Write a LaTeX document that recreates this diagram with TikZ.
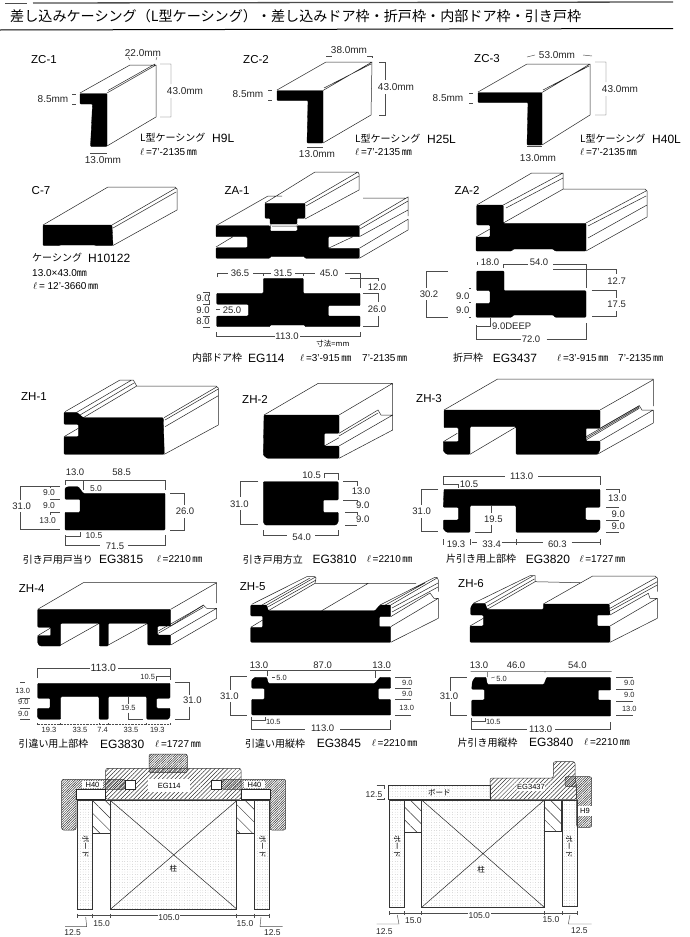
\documentclass[tikz,border=0pt]{standalone}
\usepackage{fontspec}
\setmainfont{Liberation Sans}
\newfontfamily\jp{Noto Sans CJK JP}
\usetikzlibrary{patterns.meta}
\newcommand\lenmm[1]{$\ell$\,#1\,{\jp ㎜}}
\tikzset{
  prof/.style={fill=black,draw=black,line width=.3pt,rounded corners=.9pt},
  edge/.style={draw=black!85,line width=.5pt},
  dim/.style={draw=black!70,line width=.45pt},
  dimlab/.style={inner sep=0pt,text=black!85,font=\fontsize{9.5}{10}\selectfont},
  dimsmall/.style={inner sep=0pt,text=black!85,font=\fontsize{7.5}{8}\selectfont},
  dimplan/.style={inner sep=0pt,text=black!85,font=\fontsize{8.5}{9}\selectfont},
  mmlab/.style={inner sep=0pt,text=black!85,font=\fontsize{10}{11}\selectfont},
  tag/.style={inner sep=0pt,font=\fontsize{11.5}{12}\selectfont},
  jplab/.style={inner sep=0pt,anchor=west,font=\jp\fontsize{10}{11}\selectfont},
  code/.style={inner sep=0pt,anchor=west,font=\fontsize{12}{13}\selectfont},
  lenlab/.style={inner sep=0pt,anchor=west,font=\fontsize{10}{11}\selectfont},
  hatcha/.style={draw=black!80,line width=.5pt,rounded corners=2pt,pattern={Lines[angle=45,distance=3pt,line width=.5pt]},pattern color=black!80},
  hatchb/.style={draw=black!80,line width=.5pt,rounded corners=2pt,pattern={Lines[angle=45,distance=1.7pt,line width=.5pt]},pattern color=black!80},
  hatchc/.style={draw=black!80,line width=.5pt,pattern={Lines[angle=-45,distance=9pt,line width=.5pt]},pattern color=black!80},
  stip/.style={draw=black!80,line width=.5pt,pattern={Dots[distance=2.6pt,radius=.22pt]},pattern color=black!60},
  jpsmall/.style={inner sep=0pt,font=\jp\fontsize{7.5}{8}\selectfont},
  whitebox/.style={fill=white,inner sep=0pt,font=\fontsize{7.5}{8}\selectfont},
}

\begin{document}
\begin{tikzpicture}[x=1pt,y=-1pt]

\path[fill=white,use as bounding box] (0,0) rectangle (690,937);

% title
\draw[black!70,line width=1.3pt] (33,3)--(673,2);
\draw[black!70,line width=.5pt] (5,3)--(27,3);
\draw[black,line width=1pt] (0,30)--(673,28.5);
\node[inner sep=0pt,anchor=west,font=\jp\fontsize{14.1}{15}\selectfont] (title) at (10,16) {差し込みケーシング（L型ケーシング）・差し込みドア枠・折戸枠・内部ドア枠・引き戸枠};

% ZC-1
\node[tag] (zc1) at (44,60) {ZC-1};
\draw[edge] (80,93)--(130,65)--(156,65)--(156,117)--(107,146) (107,93)--(156,65) (108,90.5)--(155,64);
\draw[prof] (80,93.5)--(107,93.5)--(107,146.5)--(90.5,146.5)--(92.5,104)--(80,104)--cycle;
\node[mmlab] (zc1w) at (143,53) {22.0mm};
\node[mmlab] (zc1h) at (185,91) {43.0mm};
\node[mmlab] (zc1t) at (53,99) {8.5mm};
\node[mmlab] (zc1b) at (103,160) {13.0mm};
\draw[dim] (128,57)--(130,60) (157,57)--(156,60) (160,64)--(171,64)--(171,84) (171,98)--(171,117)--(160,117);
\draw[dim] (72,94)--(76,94) (72,104)--(76,104) (90,153)--(107,153);
\node[jplab] (zc1n) at (140,138) {L型ケーシング};
\node[code] (zc1c) at (212,138) {H9L};
\node[lenlab] (zc1l) at (140,152) {\lenmm{=7'-2135}};

% ZC-2
\node[tag] (zc2) at (256,60) {ZC-2};
\draw[edge] (277,90)--(326,62)--(372,62)--(371,115)--(323,143) (323,90.5)--(372,62) (324,88)--(371,64);
\draw[prof] (277,90.5)--(323,90.5)--(323,143)--(307,143)--(308,100.5)--(277,100.5)--cycle;
\node[mmlab] (zc2w) at (349,50) {38.0mm};
\node[mmlab] (zc2h) at (396,87) {43.0mm};
\node[mmlab] (zc2t) at (248,94) {8.5mm};
\node[mmlab] (zc2b) at (317,154) {13.0mm};
\draw[dim] (326,56)--(332,56) (367,56)--(372,56)--(372,58) (379,62)--(385,62)--(385,80) (385,94)--(385,115)--(379,115);
\draw[dim] (268,90)--(272,90) (268,100)--(272,100) (307,147)--(323,147);
\node[jplab] (zc2n) at (355,139) {L型ケーシング};
\node[code] (zc2c) at (427,139) {H25L};
\node[lenlab] (zc2l) at (355,152) {\lenmm{=7'-2135}};

% ZC-3
\node[tag] (zc3) at (487,59) {ZC-3};
\draw[edge] (478,92)--(527,64)--(590,64)--(590,115)--(542,145) (542,92.5)--(590,64) (543,90)--(589,66);
\draw[prof] (478,92.5)--(542,92.5)--(542,145)--(527,145)--(528,102.5)--(478,102.5)--cycle;
\node[mmlab] (zc3w) at (557,55) {53.0mm};
\node[mmlab] (zc3h) at (620,89) {43.0mm};
\node[mmlab] (zc3t) at (448,98) {8.5mm};
\node[mmlab] (zc3b) at (538,158) {13.0mm};
\draw[dim] (527,57)--(535,55) (583,55)--(592,56) (595,62)--(606,62)--(606,82) (606,96)--(606,115)--(595,115);
\draw[dim] (469,93)--(473,93) (469,103)--(473,103) (527,146)--(542,146);
\node[jplab] (zc3n) at (580,139) {L型ケーシング};
\node[code] (zc3c) at (652,139) {H40L};
\node[lenlab] (zc3l) at (580,152) {\lenmm{=7'-2135}};

% C-7
\node[tag] (c7) at (41,191) {C-7};
\draw[edge] (43,225)--(108,187)--(175,187)--(177,189)--(177,210)--(113,245.5) (112,225)--(176,188) (113,228)--(176,192);
\draw[prof] (43,225)--(112,225)--(113,245.5)--(96,245.5)--(95,245)--(60,245)--(59,245.5)--(43,245.5)--cycle;
\node[jplab] (c7n) at (32,258) {ケーシング};
\node[code] (c7c) at (88,258) {H10122};
\node[lenlab] (c7s) at (32,273) {13.0×43.0{\jp ㎜}};
\node[lenlab] (c7l) at (33,286) {\lenmm{= 12'-3660}};

% ZA-1
\node[tag] (za1) at (237,191) {ZA-1};
\draw[edge] (216,225.7)--(268,196)--(282,196) (265,203)--(315,172) (315,172)--(358,172)--(359,174)--(359,190)--(305,219) (305,203)--(358,172);
\draw[edge] (306,206)--(359,176) (359.3,225.7)--(408,197)--(408,216) (363,198)--(405,198) (360,229)--(408,201) (359.3,236.7)--(408,210);
\draw[edge] (359.3,248.3)--(408,219.3)--(408,230)--(359.3,258.3) (216,247)--(233,236.7) (328.3,248.3)--(353,236.7) (271,224)--(270,231) (297,224)--(297,228) (272,226)--(297,226);
\draw[prof] (265,203.3)--(305,203.3)--(305,218.3)--(297,218.3)--(297,224)--(270,224)--(270,218.3)--(265,218.3)--cycle;
\draw[prof] (216,225.7)--(270,225.7)--(270,231)--(297.3,231)--(297.3,225.7)--(359.3,225.7)--(359.3,236.7)--(328.3,236.7)--(328.3,248.3)--(359.3,248.3)--(359.3,258.3)--(305,258.3)--(305,256.7)--(270,256.7)--(270,258.3)--(216,258.3)--(216,247.7)--(247.3,247.7)--(247.3,236.7)--(216,236.7)--cycle;
\draw[prof] (216.7,293.3)--(263.3,293.3)--(263.3,278.3)--(303.3,278.3)--(303.3,293.3)--(360,293.3)--(360,305.7)--(328.3,305.7)--(328.3,316)--(360,316)--(360,326.7)--(305,326.7)--(305,325)--(270,325)--(270,326.7)--(216.7,326.7)--(216.7,316)--(248.3,316)--(248.3,304.3)--(216.7,304.3)--cycle;
\node[dimlab] (za1a) at (240,273) {36.5};
\node[dimlab] (za1b) at (283,273) {31.5};
\node[dimlab] (za1c) at (329,273) {45.0};
\node[dimlab] (za1d) at (377,287) {12.0};
\node[dimlab] (za1e) at (377,309) {26.0};
\node[dimlab] (za1f) at (203,298.3) {9.0};
\node[dimlab] (za1g) at (203,310) {9.0};
\node[dimlab] (za1h) at (203,321.7) {8.0};
\node[dimlab] (za1i) at (232,310.7) {25.0};
\node[dimlab] (za1j) at (287,336.7) {113.0};
\node[jpsmall] (za1k) at (333,344) {寸法=mm};
\draw[dim] (217,277)--(217,273)--(228,273) (253,273)--(271,273) (263,273)--(263,276) (295,273)--(315,273) (303,273)--(303,276) (345,273)--(360,273)--(360,288);
\draw[dim] (350,278)--(378,278)--(378,281) (363,293.3)--(378,293.3)--(378,302) (378,316)--(378,326.7)--(363,326.7);
\draw[dim] (203,292.5)--(210,292.5) (203,304)--(210,304) (203,316)--(210,316) (203,327)--(210,327) (209,292.5)--(209,296) (209,304)--(209,300);
\draw[dim] (216,309.5)--(220,309.5) (216,332)--(216,336.7)--(275,336.7) (300,336.7)--(360,336.7)--(360,332);
\node[jplab] (za1n) at (192,358) {内部ドア枠};
\node[code] (za1p) at (248,358) {EG114};
\node[lenlab] (za1l) at (300,358) {\lenmm{=3'-915}};
\node[lenlab] (za1m) at (362,358) {7'-2135\,{\jp ㎜}};

% ZA-2
\node[tag] (za2) at (467,190) {ZA-2};
\draw[edge] (476.7,205)--(531.7,173)--(563,173)--(563,189)--(645,189)--(647,191)--(647,217)--(586,251) (503.3,205)--(563,173) (506,208)--(563,178) (503.3,223)--(563.3,189) (586,223)--(646,191) (588,226)--(646,196) (588,238)--(647,205) (476,237)--(490,229);
\draw[prof] (476.7,205)--(503.3,205)--(503.3,223.3)--(586,223.3)--(586,251)--(555,251)--(553.3,249)--(513.3,249)--(511.7,251)--(476,251)--(476,237)--(490,237)--(490,225)--(476.7,225)--cycle;
\draw[prof] (476.7,271)--(504,271)--(504,290.7)--(586,290.7)--(586,317.3)--(555,317.3)--(553.3,315)--(513.3,315)--(511.7,317.3)--(476,317.3)--(476,303.3)--(490,303.3)--(490,290.7)--(476.7,290.7)--cycle;
\node[dimlab] (za2a) at (490,262.7) {18.0};
\node[dimlab] (za2b) at (539,262.7) {54.0};
\node[dimlab] (za2c) at (429,294.3) {30.2};
\node[dimlab] (za2d) at (462.7,296.7) {9.0};
\node[dimlab] (za2e) at (462.7,310) {9.0};
\node[dimlab] (za2f) at (616.7,280.7) {12.7};
\node[dimlab] (za2g) at (616.7,304.3) {17.5};
\node[dimlab] (za2h) at (511.7,326) {9.0DEEP};
\node[dimlab] (za2i) at (531,339.3) {72.0};
\draw[dim] (477,262)--(477,265) (503,268)--(503,264)--(528,264) (553,264)--(586,264)--(586,288);
\draw[dim] (448,271)--(426.7,271)--(426.7,288) (426.7,300)--(426.7,317.3)--(447.7,317.3);
\draw[dim] (469,288)--(471,288) (469,302)--(471,302) (469,317)--(471,317);
\draw[dim] (553,269.5)--(616.7,269.5)--(616.7,274) (591.7,290.7)--(616.7,290.7)--(616.7,298) (616.7,311)--(616.7,316.7)--(591.7,316.7);
\draw[dim] (490,318)--(490,326)--(476,326) (476,325)--(476,339.3)--(521,339.3) (546.7,339.3)--(586,339.3)--(586,323);
\node[jplab] (za2n) at (453,358) {折戸枠};
\node[code] (za2p) at (492.7,358) {EG3437};
\node[lenlab] (za2l) at (557,358) {\lenmm{=3'-915}};
\node[lenlab] (za2m) at (618,358) {7'-2135\,{\jp ㎜}};

% ZH-1
\node[tag] (zh1) at (34,396.7) {ZH-1};
\draw[edge] (65,411.7)--(120,380)--(133.3,380)--(136.7,386)--(216,386)--(218.3,388)--(218.3,425)--(164.3,454.3) (164,417.7)--(217,386.7) (83.3,417.7)--(136.7,386) (76.7,412.3)--(131.7,380) (80,415)--(134,383);
\draw[edge] (165,420)--(218.3,389) (165,426.7)--(218.3,395.7) (64,436.7)--(78.3,428.3);
\draw[prof] (64,412.3)--(76.7,412.3)--(83.3,417.7)--(163.3,417.7)--(164.3,454.3)--(64,454.3)--(64,436.7)--(78.3,436.7)--(78.3,424.3)--(64,424.3)--cycle;
\draw[prof] (65,488)--(68,486.7)--(78.3,486.7)--(83.3,493.3)--(165,493.3)--(165,530)--(65,530)--(65,512.3)--(80,512.3)--(80,499.3)--(65,499.3)--cycle;
\node[dimlab] (zh1a) at (75,472.7) {13.0};
\node[dimlab] (zh1b) at (121.7,472.7) {58.5};
\node[dimplan] (zh1c) at (96,488.3) {5.0};
\node[dimlab] (zh1d) at (21.7,506.7) {31.0};
\node[dimplan] (zh1e) at (49,492.3) {9.0};
\node[dimplan] (zh1f) at (49,505.7) {9.0};
\node[dimplan] (zh1g) at (47.7,520.7) {13.0};
\node[dimlab] (zh1h) at (185,511.7) {26.0};
\node[dimplan] (zh1i) at (94,536) {10.5};
\node[dimlab] (zh1j) at (115,546) {71.5};
\draw[dim] (65,485)--(65,480)--(165,480)--(165,490) (83.3,481)--(83.3,490);
\draw[dim] (60,486)--(20.7,486)--(20.7,500) (20.7,512)--(20.7,529.3)--(60,529.3) (50,499.3)--(60,499.3) (50,512)--(60,512) (50,486)--(50,488) (50,512)--(50,515);
\draw[dim] (170,493.3)--(184,493.3)--(184,505) (184,518)--(184,530)--(170,530);
\draw[dim] (65,536)--(80,536)--(80,532) (65,535)--(65,545)--(100,545) (128,545)--(165,545)--(165,535);
\node[jplab] (zh1n) at (22.7,559.3) {引き戸用戸当り};
\node[code] (zh1p) at (99,559.3) {EG3815};
\node[lenlab] (zh1l) at (156.7,559.3) {\lenmm{=2210}};

% ZH-2
\node[tag] (zh2) at (255,399) {ZH-2};
\draw[edge] (264,415)--(318.3,383.3)--(392,383.3)--(392.7,385)--(392.7,415) (339,415)--(392.7,383.3) (339,433.3)--(378,410)--(381,415)--(392.7,415)--(392.7,430)--(339,458.3) (339,446)--(392.7,415) (324.3,446)--(339,437.7) (339,436)--(378,413);
\draw[prof] (264,415)--(339,415)--(339,433.3)--(324.3,433.3)--(324.3,446)--(339,446)--(339,458.3)--(267,458.3)--(263.3,455)--cycle;
\draw[prof] (263.3,481.7)--(338.3,481.7)--(338.3,500)--(323.3,500)--(323.3,512.3)--(338.3,512.3)--(338.3,522)--(336,525)--(265,525)--(263.3,522)--cycle;
\node[dimlab] (zh2a) at (311.7,475) {10.5};
\node[dimlab] (zh2b) at (239.3,504.3) {31.0};
\node[dimlab] (zh2c) at (361,491.7) {13.0};
\node[dimlab] (zh2d) at (362.7,505.7) {9.0};
\node[dimlab] (zh2e) at (362.7,519) {9.0};
\node[dimlab] (zh2f) at (301.7,537.7) {54.0};
\draw[dim] (324,478)--(324,473.3)--(338.3,473.3)--(338.3,480);
\draw[dim] (258.3,481.7)--(240.7,481.7)--(240.7,497) (240.7,510)--(240.7,524.3)--(258.3,524.3);
\draw[dim] (343.3,481.7)--(357.3,481.7)--(357.3,486) (343.3,500)--(357.3,500)--(357.3,503) (345,512.3)--(357.3,512.3)--(357.3,515) (345,525)--(357.3,525);
\draw[dim] (263.3,530)--(263.3,535)--(286.7,535) (315,535)--(338.3,535)--(338.3,530);
\node[jplab] (zh2n) at (242.7,559.3) {引き戸用方立};
\node[code] (zh2p) at (312.3,559.3) {EG3810};
\node[lenlab] (zh2l) at (366.7,559.3) {\lenmm{=2210}};

% ZH-3
\node[tag] (zh3) at (429,398.3) {ZH-3};
\draw[edge] (444,410)--(497.7,379)--(653.3,379)--(653.3,406) (600,410)--(653.3,379.7) (600,428.3)--(639.3,405.7)--(642,410)--(653.3,410)--(653.3,423)--(597.3,454.3) (600,441)--(653.3,410) (470,454.3)--(516,427) (443.3,441.7)--(457.3,433.3);
\draw[edge] (586,440)--(639.3,408.3) (586,436.7)--(639.3,405.7) (586,438.3)--(639.3,407);
\draw[prof] (444,410)--(600,410)--(600,428.3)--(586,428.3)--(586,441)--(600,441)--(600,450)--(597.3,454.3)--(516,454.3)--(516,426.7)--(470,426.7)--(470,454.3)--(446.7,454.3)--(443.3,451)--(443.3,441.7)--(458.3,441.7)--(458.3,427.7)--(444,427.7)--cycle;
\draw[prof] (444,489.3)--(600,489.3)--(600,507.3)--(585.7,507.3)--(585.7,520)--(600,520)--(600,529)--(597.3,532.3)--(516,532.3)--(516,505.7)--(470,505.7)--(470,532.3)--(446.7,532.3)--(443.3,529)--(443.3,520)--(458.3,520)--(458.3,507.3)--(443.3,507.3)--cycle;
\node[dimlab] (zh3a) at (521.7,476) {113.0};
\node[dimlab] (zh3b) at (469,484) {10.5};
\node[dimlab] (zh3c) at (421.7,511.7) {31.0};
\node[dimlab] (zh3d) at (493.3,519) {19.5};
\node[dimlab] (zh3e) at (617.3,498.3) {13.0};
\node[dimlab] (zh3f) at (618.3,514) {9.0};
\node[dimlab] (zh3g) at (618.3,526.7) {9.0};
\node[dimlab] (zh3h) at (456,544) {19.3};
\node[dimlab] (zh3i) at (491.7,544) {33.4};
\node[dimlab] (zh3j) at (557.3,544) {60.3};
\draw[dim] (443.3,485)--(443.3,476)--(505,476) (538.3,476)--(600,476)--(600,485) (443.3,484)--(458.3,484)--(458.3,488);
\draw[dim] (438.3,489.3)--(421.7,489.3)--(421.7,505) (421.7,518)--(421.7,531.7)--(438.3,531.7);
\draw[dim] (491.7,505.7)--(491.7,513) (491.7,525)--(491.7,532.3)--(475,532.3);
\draw[dim] (606,489.3)--(619.3,489.3)--(619.3,493) (606,507.3)--(619.3,507.3) (606,520)--(619.3,520) (606,532.3)--(619.3,532.3);
\draw[dim] (443.3,539)--(443.3,545) (470,539)--(470,545) (471.7,542.7)--(477.3,542.7) (501.7,542.7)--(543,542.7) (516,539)--(516,545) (571.7,542.7)--(600,542.7) (600,539)--(600,545);
\node[jplab] (zh3n) at (446,559) {片引き用上部枠};
\node[code] (zh3p) at (525.7,559) {EG3820};
\node[lenlab] (zh3l) at (579.3,559) {\lenmm{=1727}};

% ZH-4
\node[tag] (zh4) at (31.7,588.3) {ZH-4};
\draw[edge] (37.7,609.3)--(83.3,582.7)--(216.7,582.7)--(216.7,603) (170.7,609.3)--(216.7,582.7) (170.7,626)--(203.3,605)--(206.7,608.3)--(216.7,608.3)--(216.7,618.3)--(170.7,645) (170.7,635)--(216.7,608.3);
\draw[edge] (60.7,645)--(99.3,623.3) (108.3,645)--(147.7,623.3) (37.7,635.7)--(50,628.3) (158.3,633.3)--(203.3,607.3) (158.3,631)--(203.3,605.5);
\draw[prof] (37.7,609.3)--(170.7,609.3)--(170.7,626)--(157.7,626)--(157.7,635)--(170.7,635)--(170.7,645)--(147.7,645)--(147.7,623.3)--(108.3,623.3)--(108.3,646)--(99.3,646)--(99.3,623.3)--(60.7,623.3)--(60.7,646)--(40,646)--(37.7,643.3)--(37.7,635.7)--(50.7,635.7)--(50.7,627.3)--(37.7,627.3)--cycle;
\draw[prof] (37.7,683.3)--(170,683.3)--(170,698.3)--(156.7,698.3)--(156.7,708.3)--(170,708.3)--(170,716.7)--(168.3,719.3)--(146.7,719.3)--(146.7,696.7)--(108.3,696.7)--(108.3,719.3)--(99,719.3)--(99,696.7)--(60.7,696.7)--(60.7,719.3)--(39.3,719.3)--(37.3,716.7)--(37.3,708.3)--(50,708.3)--(50,698.3)--(37.7,698.3)--cycle;
\node[dimlab,font=\fontsize{10.5}{11}\selectfont] (zh4a) at (103.3,667.7) {113.0};
\node[dimsmall] (zh4b) at (147.7,676.7) {10.5};
\node[dimsmall] (zh4c) at (22.7,690.7) {13.0};
\node[dimsmall] (zh4d) at (23.3,702.3) {9.0};
\node[dimsmall] (zh4e) at (23.3,714) {9.0};
\node[dimlab] (zh4f) at (192.3,700) {31.0};
\node[dimsmall] (zh4g) at (128.3,708.3) {19.5};
\node[dimsmall] (zh4h) at (49,730) {19.3};
\node[dimsmall] (zh4i) at (80,730) {33.5};
\node[dimsmall] (zh4j) at (102.7,730) {7.4};
\node[dimsmall] (zh4k) at (131,730) {33.5};
\node[dimsmall] (zh4m) at (157.3,730) {19.3};
\draw[dim] (37.7,678)--(37.7,668.3)--(90,668.3) (118.3,668.3)--(170,668.3)--(170,680) (156.7,681)--(156.7,676.7)--(170,676.7);
\draw[dim] (20,682.7)--(25,682.7) (20,698)--(30,698) (20,708)--(30,708) (20,719.3)--(30,719.3);
\draw[dim] (175,682.7)--(189,682.7)--(189,695) (189,706.7)--(189,719.3)--(175,719.3);
\draw[dim] (128.3,696.7)--(128.3,704) (128.3,712.7)--(128.3,719.3)--(143.3,719.3);
\draw[dim,densely dotted] (37.7,724)--(170,724);
\foreach \tx in {37.7,60.7,99,108.3,146.7,170} \draw[dim] (\tx,723)--(\tx,725);
\node[jplab] (zh4n) at (18.3,744) {引違い用上部枠};
\node[code] (zh4p) at (100,744) {EG3830};
\node[lenlab] (zh4l) at (155,744) {\lenmm{=1727}};

% ZH-5
\node[tag] (zh5) at (252.7,586.7) {ZH-5};
\draw[edge] (251.7,604.3)--(306.7,576.7)--(315,576.7)--(316,578)--(315,583.3)--(416,583.3) (266.7,605)--(315,577.3) (268.3,606.7)--(316,580) (262,605)--(310,578) (268.3,610.7)--(315,583.3) (321.7,610.7)--(368.3,583.3);
\draw[edge] (375,610.7)--(425,583) (380,605)--(435,577.3)--(437,577.3)--(438.3,580)--(438.3,591.7) (390.7,605)--(437,578) (392,608)--(438,583) (392,612)--(438,587) (390.7,616.7)--(430,593)--(434,598.3)--(438.3,598.3)--(438.3,618.3)--(390.7,642.3) (390.7,626.7)--(438.3,598.3) (250.7,627.3)--(262.7,620);
\draw[prof] (250.7,605)--(266.7,605)--(268.3,610.7)--(375,610.7)--(380,605)--(390.7,605)--(390.7,616.7)--(379.3,616.7)--(379.3,626.7)--(390.7,626.7)--(390.7,642.3)--(250.7,642.3)--(250.7,627.3)--(262.7,627.3)--(262.7,616)--(250.7,616)--cycle;
\draw[prof] (251.7,680)--(255,677.3)--(266.7,677.3)--(268.3,683.3)--(375,683.3)--(380,677.3)--(390.7,677.3)--(390.7,688.3)--(378.3,688.3)--(378.3,699.3)--(390.7,699.3)--(390.7,715)--(251.7,715)--(251.7,699.3)--(264.3,699.3)--(264.3,688.3)--(251.7,688.3)--cycle;
\node[dimlab] (zh5a) at (259,665) {13.0};
\node[dimlab] (zh5b) at (322.7,665) {87.0};
\node[dimlab] (zh5c) at (381.7,665) {13.0};
\node[dimsmall] (zh5d) at (281.7,678.3) {5.0};
\node[dimlab] (zh5e) at (229.3,696) {31.0};
\node[dimsmall] (zh5f) at (273.3,722.3) {10.5};
\node[dimlab] (zh5g) at (322.7,728.3) {113.0};
\node[dimsmall] (zh5h) at (407.3,683.3) {9.0};
\node[dimsmall] (zh5i) at (407.3,694) {9.0};
\node[dimsmall] (zh5j) at (406.7,707.7) {13.0};
\draw[dim] (250,670)--(390.7,670) (267.3,670)--(267.3,676) (375,670)--(375,678) (272,677.3)--(275,677.3);
\draw[dim] (246.7,676.7)--(230.7,676.7)--(230.7,690) (230.7,702)--(230.7,715)--(246.7,715);
\draw[dim] (251.7,717)--(251.7,720)--(265,720)--(265,717) (251.7,720)--(251.7,729)--(305,729) (340,729)--(390.7,729)--(390.7,720);
\draw[dim] (395,677.3)--(411,677.3) (395,688.3)--(411,688.3) (395,699.3)--(411,699.3) (395,715)--(411,715);
\node[jplab] (zh5n) at (245,743.3) {引違い用縦枠};
\node[code] (zh5p) at (316.7,743.3) {EG3845};
\node[lenlab] (zh5l) at (371.7,743.3) {\lenmm{=2210}};

% ZH-6
\node[tag] (zh6) at (471,584) {ZH-6};
\draw[edge] (473.3,603.3)--(530,575.7)--(535,575.7)--(535,581.7)--(580,582.7) (485,603.3)--(533.3,575.7) (487.3,606)--(534.3,579) (487.3,609.3)--(535,581.7) (543.3,604)--(592.7,576)--(655,576)--(657.3,578)--(657.3,591.7);
\draw[edge] (609.3,604)--(656.7,577.3) (610,608.3)--(657.3,581.7) (610,611)--(657.3,585) (610,615)--(648.3,593.3)--(650,598.3)--(657.3,598.3)--(657.3,618.3)--(610,642.3) (610,626)--(657.3,598.3) (470,626)--(483.3,618.3);
\draw[prof] (470.7,607.3)--(473.3,603.3)--(485,603.3)--(487.3,609.3)--(543.3,609.3)--(543.3,604)--(609.3,604)--(610,615)--(597.3,615)--(597.3,626)--(610,626)--(610,642.3)--(470,642.3)--(470,626)--(483.3,626)--(483.3,615)--(470.7,615)--cycle;
\draw[prof] (472.3,681.7)--(475,677.3)--(486,677.3)--(487.3,684.3)--(544,684.3)--(546.7,677.3)--(610.7,677.3)--(610.7,690)--(598.3,690)--(598.3,700)--(610.7,700)--(610.7,716)--(471.7,716)--(471.7,700)--(484.3,700)--(484.3,689.3)--(471.7,689.3)--cycle;
\node[dimlab] (zh6a) at (479,665.7) {13.0};
\node[dimlab] (zh6b) at (516,665.7) {46.0};
\node[dimlab] (zh6c) at (577.3,665.7) {54.0};
\node[dimsmall] (zh6d) at (501.7,679) {5.0};
\node[dimlab] (zh6e) at (449,696.7) {31.0};
\node[dimsmall] (zh6f) at (629.3,683.3) {9.0};
\node[dimsmall] (zh6g) at (629.3,695) {9.0};
\node[dimsmall] (zh6h) at (629.3,709) {13.0};
\node[dimsmall] (zh6i) at (493.3,721.7) {10.5};
\node[dimlab] (zh6j) at (540.7,729) {113.0};
\draw[dim] (470.7,671.7)--(611.7,671.7) (487.3,672)--(487.3,677) (545,671)--(545,673) (491,678)--(495,677);
\draw[dim] (466.7,677.3)--(450.7,677.3)--(450.7,690.7) (450.7,701.7)--(450.7,715.7)--(466.7,715.7);
\draw[dim] (616,677.3)--(633.3,677.3) (616,689.3)--(633.3,689.3) (616,701)--(633.3,701) (616,715.7)--(633.3,715.7);
\draw[dim] (471.7,718)--(471.7,729)--(527.3,729) (471.7,721.7)--(485,721.7)--(485,718) (555,729)--(610.7,729)--(610.7,721.7);
\node[jplab] (zh6n) at (457.3,742.3) {片引き用縦枠};
\node[code] (zh6p) at (529,742.3) {EG3840};
\node[lenlab] (zh6l) at (584,742.3) {\lenmm{=2210}};

% plan, door frame between H40
\draw[hatchb] (149,772.7)--(149,754)--(187.3,754)--(187.3,772.7)--cycle;
\draw[hatcha] (105.7,799.3)--(105.7,768.3)--(241,768.3)--(241,799.3)--cycle;
\draw[hatchb] (76,789.3)--(125,789.3)--(125,779.3)--(61.7,779.3)--(61.7,830)--(76,830)--cycle;
\draw[hatchb] (270,789.3)--(221.7,789.3)--(221.7,779.3)--(285.7,779.3)--(285.7,830)--(270,830)--cycle;
\draw[edge,fill=white] (125,780)rectangle(135.7,789.3) (211.7,780)rectangle(221.7,789.3);
\draw[edge,fill=white] (76,789.3)rectangle(105,799.3) (241,789.3)rectangle(270,799.3);
\node[whitebox,minimum width=21.6pt,minimum height=7.6pt] (hfl) at (92.5,784.5) {H40};
\node[whitebox,minimum width=21pt,minimum height=7.6pt] (hfr) at (254.5,784.5) {H40};
\node[whitebox,minimum width=41.7pt,minimum height=13.4pt] (egp) at (169.2,785.7) {EG114};
\draw[stip] (110.7,800.7)rectangle(236.7,909);
\draw[edge] (110.7,800.7)--(236.7,909) (236.7,800.7)--(110.7,909);
\draw[stip] (77.7,800.7)rectangle(92.3,909) (254.3,800.7)rectangle(269.3,909);
\draw[hatchc] (92.3,800.7)rectangle(110.7,833.3) (236.7,800.7)rectangle(254.3,833.3);
\node[jpsmall,rotate=-90] (bdl) at (85.7,846.7) {ボード};
\node[jpsmall,rotate=-90] (bdr) at (262.7,846.7) {ボード};
\node[jpsmall] (pil) at (173.3,868.3) {柱};
\node[dimplan] (pa) at (169,917.7) {105.0};
\node[dimplan] (pb) at (101.7,923.3) {15.0};
\node[dimplan] (pc) at (245,923.3) {15.0};
\node[dimplan] (pd) at (72.7,932.3) {12.5};
\node[dimplan] (pe) at (272.3,932.3) {12.5};
\draw[dim] (77.7,915.7)--(158,915.7) (180,915.7)--(269.3,915.7);
\foreach \tx in {77.7,92.3,110.7,236.7,254.3,269.3} \draw[dim] (\tx,913.5)--(\tx,917.5);
\draw[dim] (85.7,917)--(86.7,926.7)--(65,926.7) (261,917)--(260,926.7)--(282.7,926.7);

% plan, folding door frame with H9
\draw[stip] (388.3,785)rectangle(490,799.3);
\node[jpsmall] (bdt) at (439.3,792.3) {ボード};
\draw[hatcha] (490,799.3)--(490,778)--(553.3,778)--(553.3,761.7)--(575,761.7)--(575,777)--(576.7,786.7)--(576.7,799.3)--cycle;
\draw[hatchb] (565,786.7)--(565,776.7)--(591.7,776.7)--(591.7,827.3)--(576.7,827.3)--(576.7,786.7)--cycle;
\node[whitebox,minimum width=26.3pt,minimum height=7.7pt] (egq) at (531,787.3) {EG3437};
\node[whitebox,minimum width=13.3pt,minimum height=10pt] (hn) at (585,811) {H9};
\draw[stip] (421.7,800)rectangle(544.3,907.3);
\draw[edge] (421.7,800)--(544.3,907.3) (544.3,800)--(421.7,907.3);
\draw[stip] (389.3,800)rectangle(404.3,907.3) (562.7,800)rectangle(577.3,906);
\draw[hatchc] (404.3,800)rectangle(421.7,832.3) (544.3,800)rectangle(561.7,831.7);
\node[jpsmall,rotate=-90] (bdm) at (397.3,846.7) {ボード};
\node[jpsmall,rotate=-90] (bdn) at (569.3,846.7) {ボード};
\node[jpsmall] (pim) at (481,870) {柱};
\node[dimplan] (qa) at (479.3,915.7) {105.0};
\node[dimplan] (qb) at (413.3,920.7) {15.0};
\node[dimplan] (qc) at (551,920) {15.0};
\node[dimplan] (qd) at (384.3,931.7) {12.5};
\node[dimplan] (qe) at (579.3,930.7) {12.5};
\node[dimplan] (qf) at (374,794.3) {12.5};
\draw[dim] (389.3,913.3)--(468,913.3) (491,913.3)--(577.3,913.3);
\foreach \tx in {389.3,404.3,421.7,544.3,562.7,577.3} \draw[dim] (\tx,911)--(\tx,915);
\draw[dim] (397.3,915)--(399,924)--(376.7,924) (570,915)--(568.3,924)--(591.7,924);
\draw[dim] (376.7,785)--(384,785)--(384,789) (384,798)--(384,799.3)--(376.7,799.3);

\end{tikzpicture}
\end{document}
